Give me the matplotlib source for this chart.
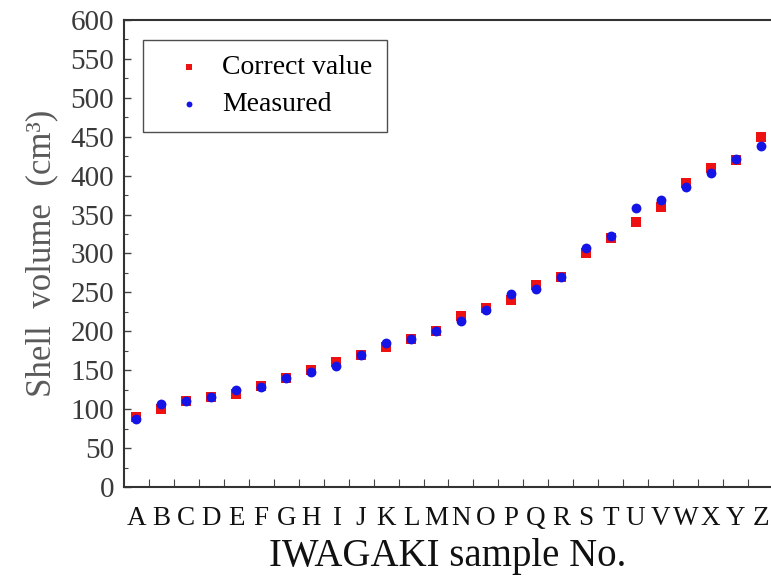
import matplotlib
matplotlib.use("Agg")
import matplotlib.pyplot as plt
from matplotlib.ticker import MultipleLocator, FixedLocator

samples = list("ABCDEFGHIJKLMNOPQRSTUVWXYZ")
correct_value = [90, 100, 110, 115, 120, 130, 140, 150, 160, 170, 180, 190, 200,
                 220, 230, 240, 260, 270, 300, 320, 340, 360, 390, 410, 420, 450]
measured = [88, 107, 110, 115, 125, 128, 140, 148, 156, 170, 185, 190, 200,
            213, 228, 248, 255, 270, 307, 323, 358, 369, 386, 404, 422, 438]

fig = plt.figure(figsize=(7.71, 5.76), dpi=100)
ax = fig.add_axes([0.1608, 0.1545, 0.8392, 0.8108])

xpos = [i + 0.5 for i in range(len(samples))]
ax.scatter(xpos, correct_value, marker="s", s=42, color="#ee1111",
           linewidths=0, label="Correct value", zorder=3)
ax.scatter(xpos, measured, marker="o", s=50, color="#1414e6",
           linewidths=0, label="Measured", zorder=4)

ax.set_xlim(0, 25.92)
ax.set_ylim(0, 600)

ax.yaxis.set_major_locator(MultipleLocator(50))
ax.yaxis.set_minor_locator(MultipleLocator(25))
ax.xaxis.set_major_locator(FixedLocator(xpos))
ax.xaxis.set_minor_locator(FixedLocator(range(1, 27)))
ax.set_xticklabels(samples)

serif = ["Liberation Serif", "DejaVu Serif"]
for lbl in ax.get_yticklabels():
    lbl.set_fontfamily(serif)
    lbl.set_fontsize(21)
    lbl.set_color("#3a3a3a")
for lbl in ax.get_xticklabels():
    lbl.set_fontfamily(serif)
    lbl.set_fontsize(19.5)
    lbl.set_color("#111111")

ax.tick_params(axis="y", which="major", direction="in", length=5, width=1,
               color="#444444", pad=7)
ax.tick_params(axis="y", which="minor", direction="in", length=3, width=0.8,
               color="#444444")
ax.tick_params(axis="x", which="major", length=0, pad=14)
ax.tick_params(axis="x", which="minor", direction="in", length=6, width=0.8,
               color="#444444")
ax.tick_params(top=False, right=False)

for side in ("left", "bottom", "top"):
    ax.spines[side].set_linewidth(1.5)
    ax.spines[side].set_color("#333333")
ax.spines["right"].set_visible(False)

ax.set_xlabel("IWAGAKI sample No.", fontfamily=serif, fontsize=28,
              color="#111111", labelpad=5)
ax.set_ylabel("Shell  volume  (cm³)", fontfamily=serif,
              fontsize=25, color="#5a5a5a", labelpad=9)

leg = ax.legend(loc="upper left", bbox_to_anchor=(0.029, 0.958),
                prop={"family": serif, "size": 20}, frameon=True,
                fancybox=False, edgecolor="#222222", markerscale=0.6,
                handletextpad=0.1, borderpad=0.55, labelspacing=0.4,
                handlelength=2.2, borderaxespad=0)
leg.get_frame().set_linewidth(1.0)

fig.savefig("out.png", dpi=100)
